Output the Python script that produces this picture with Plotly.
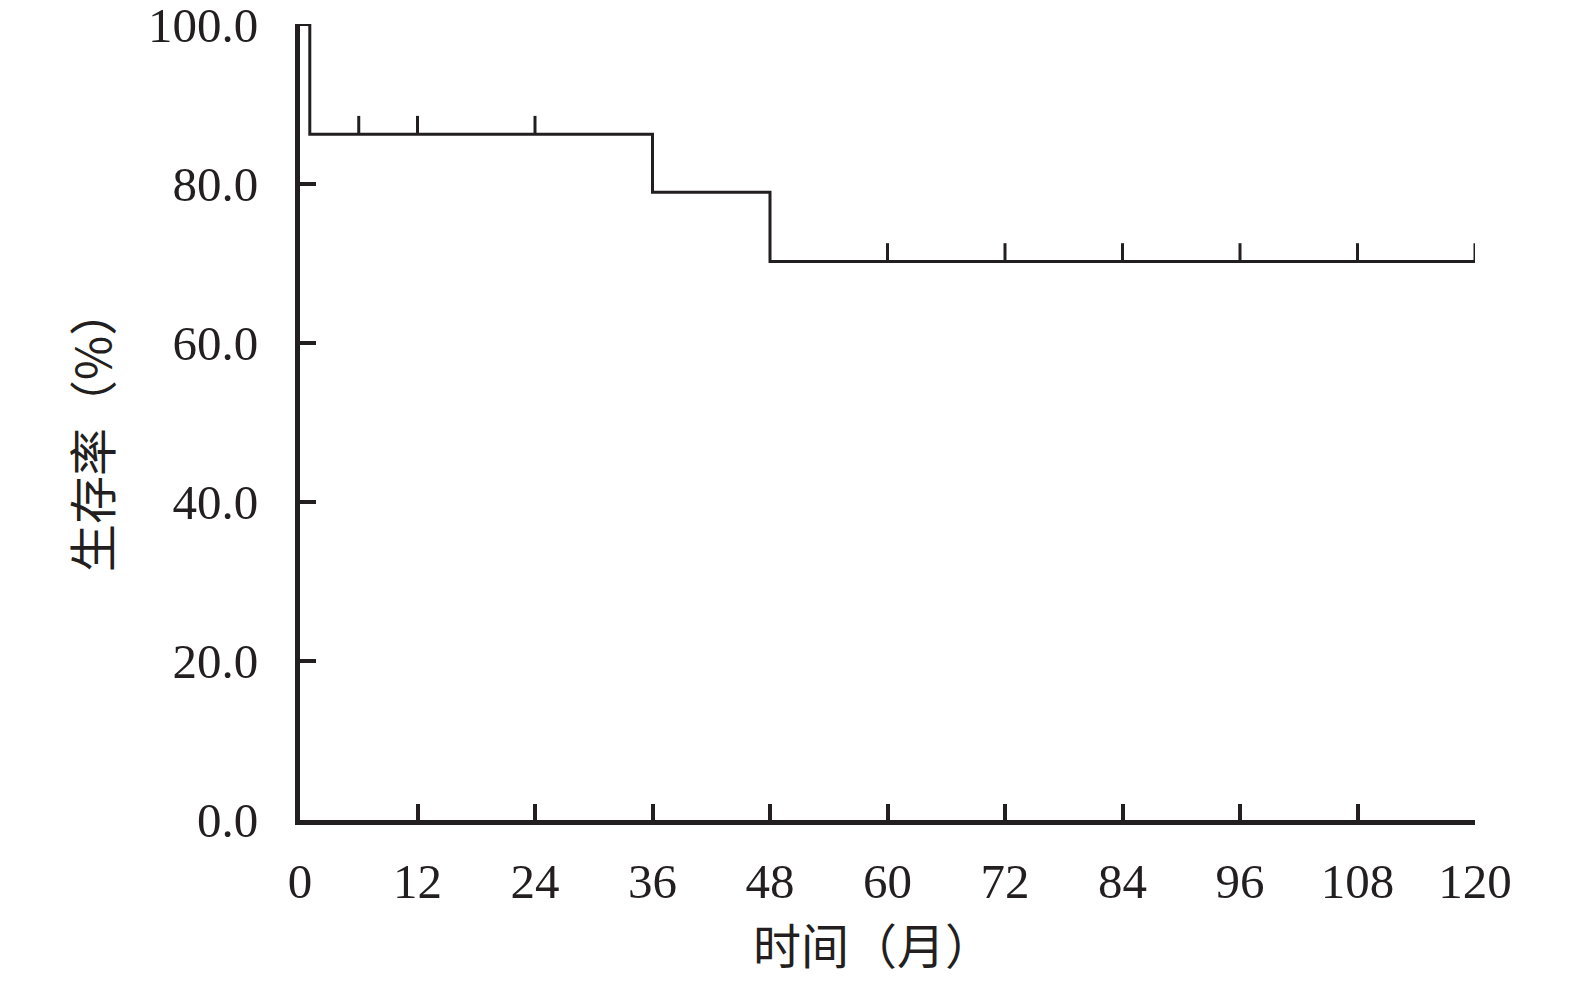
import plotly.graph_objects as go

# Data
step_times = [0, 1, 36, 48, 120]
step_surv = [100.0, 86.2, 78.9, 70.2, 70.2]
censor_times = [6, 12, 24, 60, 72, 84, 96, 108, 120]
censor_surv = [86.2, 86.2, 86.2, 70.2, 70.2, 70.2, 70.2, 70.2, 70.2]
censor_mark_height = 2.3
x_ticks = [0, 12, 24, 36, 48, 60, 72, 84, 96, 108, 120]
y_ticks = [0, 20, 40, 60, 80, 100]
y_tick_text = ["0.0", "20.0", "40.0", "60.0", "80.0", "100.0"]
x_title = "时间（月）"
y_title = "生存率（%）"

INK = "#231f20"
NUM_FONT = "Liberation Serif"
CJK_FONT = "Noto Sans CJK SC"
TICK_SIZE = 49
TITLE_SIZE = 48

cx, cy = [], []
for t, s in zip(censor_times, censor_surv):
    cx += [t, t, None]
    cy += [s, s + censor_mark_height, None]

fig = go.Figure()
fig.add_trace(go.Scatter(x=step_times, y=step_surv, mode="lines", line_shape="hv",
                         line=dict(color=INK, width=3), cliponaxis=False, showlegend=False))
fig.add_trace(go.Scatter(x=cx, y=cy, mode="lines",
                         line=dict(color=INK, width=3), cliponaxis=False, showlegend=False))

# page body has an 8px margin, so the figure is placed at (8, 8)
fig.update_layout(
    width=1567, height=976,
    margin=dict(l=292, r=100, t=16, b=164),
    paper_bgcolor="white", plot_bgcolor="white",
    font=dict(family=NUM_FONT, size=TICK_SIZE, color=INK),
    xaxis=dict(range=[0, 120], tickvals=x_ticks, ticks="inside", ticklen=16, tickwidth=4,
               tickcolor=INK, showline=True, linecolor=INK, linewidth=5, showgrid=False,
               zeroline=False, ticklabelstandoff=14, automargin=False,
               ticklabeloverflow="allow",
               tickfont=dict(family=NUM_FONT, size=TICK_SIZE, color=INK)),
    yaxis=dict(range=[0, 100.05], tickvals=y_ticks, ticktext=y_tick_text, ticks="inside",
               ticklen=16, tickwidth=4, tickcolor=INK, showline=True, linecolor=INK,
               linewidth=5, showgrid=False, zeroline=False, ticklabelstandoff=27,
               automargin=False, ticklabeloverflow="allow",
               tickfont=dict(family=NUM_FONT, size=TICK_SIZE, color=INK)),
    annotations=[
        dict(text=x_title, xref="paper", yref="paper", x=0.488, y=-0.154, showarrow=False,
             xanchor="center", yanchor="middle",
             font=dict(family=CJK_FONT, size=TITLE_SIZE, color=INK)),
        dict(text=y_title, xref="paper", yref="paper", x=-0.1787, y=0.49, showarrow=False,
             textangle=-90, xanchor="center", yanchor="middle",
             font=dict(family=CJK_FONT, size=TITLE_SIZE, color=INK)),
    ],
)

fig.write_html("out.html")
